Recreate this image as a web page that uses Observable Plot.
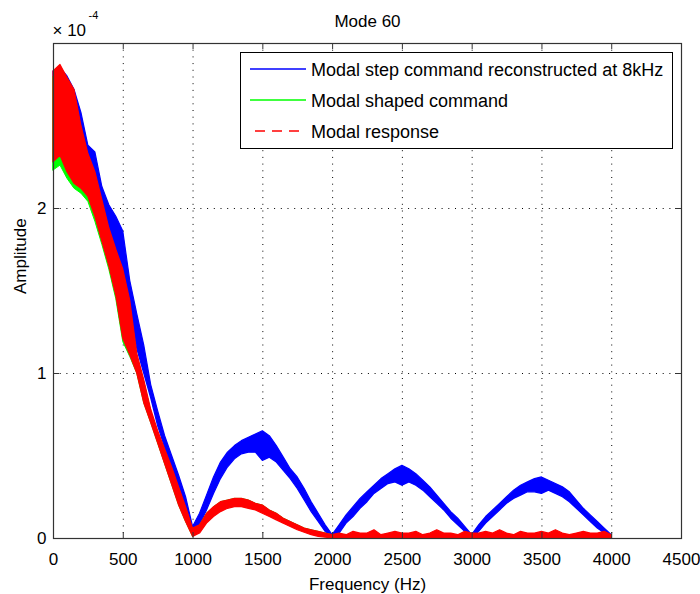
<!DOCTYPE html>
<html><head><meta charset="utf-8">
<script src="https://cdn.jsdelivr.net/npm/d3@7"></script>
<script src="https://cdn.jsdelivr.net/npm/@observablehq/plot@0.6"></script>
<style>
body{margin:0;background:#fff;font-family:"Liberation Sans",Arial,sans-serif;}
</style></head><body><div id="chart"></div>
<script>
// Frequency samples (Hz)
const freq = [0,50,100,150,200,250,300,350,400,450,500,550,600,650,700,750,800,850,900,950,
  1000,1050,1100,1150,1200,1250,1300,1350,1400,1450,1500,1550,1600,1650,1700,1750,1800,1850,1900,1950,
  2000,2050,2100,2150,2200,2250,2300,2350,2400,2450,2500,2550,2600,2650,2700,2750,2800,2850,2900,2950,
  3000,3050,3100,3150,3200,3250,3300,3350,3400,3450,3500,3550,3600,3650,3700,3750,3800,3850,3900,3950,4000];

// Amplitudes in units of 1e-4 (lower / upper envelope of the noisy trace)
const blueLo = [2.28,2.30,2.25,2.20,2.18,2.15,2.05,1.95,1.85,1.75,1.62,1.40,1.15,1.00,0.85,0.68,0.55,0.43,0.31,0.18,
  0.02,0.08,0.17,0.27,0.36,0.43,0.48,0.51,0.52,0.52,0.47,0.49,0.46,0.41,0.36,0.30,0.23,0.16,0.10,0.04,
  0.00,0.03,0.09,0.13,0.18,0.22,0.27,0.30,0.33,0.34,0.32,0.34,0.32,0.29,0.25,0.21,0.17,0.12,0.08,0.04,
  0.00,0.04,0.09,0.13,0.17,0.21,0.24,0.26,0.28,0.28,0.27,0.29,0.27,0.25,0.22,0.18,0.14,0.10,0.06,0.03,0.00];
const blueHi = [2.83,2.85,2.80,2.72,2.58,2.38,2.34,2.13,2.02,1.95,1.86,1.56,1.36,1.17,0.93,0.77,0.62,0.50,0.38,0.25,
  0.07,0.15,0.26,0.37,0.46,0.52,0.56,0.59,0.61,0.63,0.65,0.62,0.56,0.49,0.42,0.37,0.30,0.22,0.15,0.08,
  0.02,0.08,0.14,0.19,0.24,0.28,0.32,0.36,0.39,0.42,0.44,0.42,0.39,0.35,0.31,0.26,0.21,0.16,0.12,0.07,
  0.02,0.08,0.13,0.17,0.21,0.25,0.29,0.32,0.34,0.36,0.37,0.35,0.33,0.31,0.28,0.23,0.18,0.14,0.10,0.06,0.02];
const greenLo = [2.23,2.26,2.18,2.12,2.09,2.04,1.92,1.78,1.63,1.45,1.19,1.10,1.00,0.82,0.70,0.575,0.45,0.325,0.20,0.10,
  0.01,0.04,0.10,0.14,0.17,0.19,0.20,0.20,0.19,0.18,0.16,0.14,0.12,0.10,0.08,0.06,0.04,0.025,0.015,0.01,
  0,0,0,0,0,0,0,0,0,0,0,0,0,0,0,0,0,0,0,0,
  0,0,0,0,0,0,0,0,0,0,0,0,0,0,0,0,0,0,0,0,0];
const greenHi = [2.80,2.84,2.76,2.69,2.47,2.30,2.19,2.02,1.85,1.72,1.60,1.41,1.10,0.95,0.77,0.64,0.53,0.42,0.30,0.18,
  0.05,0.08,0.15,0.19,0.22,0.23,0.24,0.24,0.23,0.21,0.20,0.17,0.15,0.12,0.10,0.08,0.06,0.05,0.04,0.03,
  0.02,0.02,0.02,0.02,0.02,0.02,0.02,0.02,0.02,0.02,0.02,0.02,0.02,0.02,0.02,0.02,0.02,0.02,0.02,0.02,
  0.02,0.02,0.02,0.02,0.02,0.02,0.02,0.02,0.02,0.02,0.02,0.02,0.02,0.02,0.02,0.02,0.02,0.02,0.02,0.02,0.02];
const redLo = [2.28,2.32,2.22,2.15,2.12,2.07,1.95,1.80,1.65,1.47,1.21,1.11,1.00,0.82,0.70,0.575,0.45,0.325,0.20,0.10,
  0.01,0.03,0.09,0.13,0.16,0.18,0.19,0.19,0.18,0.17,0.15,0.13,0.11,0.09,0.07,0.05,0.035,0.02,0.01,0.005,
  0,0,0,0,0,0,0,0,0,0,0,0,0,0,0,0,0,0,0,0,
  0,0,0,0,0,0,0,0,0,0,0,0,0,0,0,0,0,0,0,0,0];
const redHi = [2.83,2.87,2.79,2.72,2.50,2.33,2.22,2.05,1.88,1.75,1.63,1.44,1.12,0.96,0.78,0.65,0.54,0.43,0.31,0.19,
  0.06,0.08,0.15,0.19,0.22,0.23,0.24,0.24,0.23,0.21,0.20,0.17,0.15,0.12,0.10,0.08,0.06,0.05,0.04,0.03,
  0.02,0.03,0.02,0.04,0.03,0.03,0.05,0.02,0.03,0.04,0.03,0.03,0.04,0.02,0.03,0.05,0.03,0.03,0.02,0.04,
  0.03,0.03,0.04,0.03,0.05,0.03,0.02,0.04,0.03,0.03,0.04,0.03,0.05,0.03,0.02,0.03,0.04,0.03,0.03,0.04,0.02];

const xTicks = [0,500,1000,1500,2000,2500,3000,3500,4000,4500];
const xGrid = [500,1000,1500,2000,2500,3000,3500,4000];
const yTicks = [0,1,2];
const yGrid = [1,2];
const seriesNames = ["Modal step command reconstructed at 8kHz","Modal shaped command","Modal response"];
const seriesColors = ["#0000ff","#00ff00","#ff0000"];

const W = 700, H = 594, mL = 53, mR = 19, mT = 43, mB = 56;
const fw = W - mL - mR, fh = H - mT - mB;
const rows = (lo, hi) => freq.map((f, i) => ({f, lo: lo[i], hi: hi[i]}));
const font = "'Liberation Sans', Arial, sans-serif";

const plot = Plot.plot({
  width: W, height: H,
  marginLeft: mL, marginRight: mR, marginTop: mT, marginBottom: mB,
  style: {fontFamily: font, fontSize: "17px", background: "#fff", color: "#000", overflow: "visible"},
  x: {domain: [0, 4500], ticks: xTicks, tickSize: 0, tickPadding: 14, label: null, tickFormat: d => String(d)},
  y: {domain: [0, 3], ticks: yTicks, tickSize: 0, tickPadding: 7, label: null, tickFormat: d => String(d)},
  marks: [
    Plot.ruleX(xGrid, {stroke: "#000", strokeDasharray: "1,5.7", strokeWidth: 1}),
    Plot.ruleY(yGrid, {stroke: "#000", strokeDasharray: "1,5.7", strokeWidth: 1}),
    Plot.areaY(rows(blueLo, blueHi), {x: "f", y1: "lo", y2: "hi", fill: seriesColors[0], stroke: seriesColors[0], strokeWidth: 1.2}),
    Plot.areaY(rows(greenLo, greenHi), {x: "f", y1: "lo", y2: "hi", fill: seriesColors[1], stroke: seriesColors[1], strokeWidth: 1}),
    Plot.areaY(rows(redLo, redHi), {x: "f", y1: "lo", y2: "hi", fill: seriesColors[2], stroke: seriesColors[2], strokeWidth: 1.2}),
    Plot.ruleX(xTicks, {insetTop: fh - 6, stroke: "#333"}),
    Plot.ruleX(xTicks, {insetBottom: fh - 6, stroke: "#333"}),
    Plot.ruleY(yTicks, {insetRight: fw - 6, stroke: "#333"}),
    Plot.ruleY(yTicks, {insetLeft: fw - 6, stroke: "#333"}),
    Plot.frame({stroke: "#333", strokeWidth: 1.2}),
    Plot.text(["Mode 60"], {frameAnchor: "top", lineAnchor: "bottom", dy: -17, fontSize: 17}),
    Plot.text(["Frequency (Hz)"], {frameAnchor: "bottom", lineAnchor: "bottom", dy: 51, fontSize: 17}),
    Plot.text(["Amplitude"], {frameAnchor: "left", lineAnchor: "bottom", rotate: -90, dx: -28, dy: 3, fontSize: 17}),
    Plot.text(["\u00d7 10"], {frameAnchor: "top-left", textAnchor: "start", lineAnchor: "bottom", dy: -8, dx: -1, fontSize: 17}),
    Plot.text(["-4"], {frameAnchor: "top-left", textAnchor: "start", lineAnchor: "bottom", dy: -25, dx: 35, fontSize: 11})
  ]
});
document.getElementById("chart").appendChild(plot);

// Legend box
const svg = d3.select(plot);
const lg = svg.append("g").attr("font-family", font).attr("font-size", 18).attr("text-anchor", "start");
lg.append("rect").attr("x", 240.5).attr("y", 52.5).attr("width", 432).attr("height", 96)
  .attr("fill", "#fff").attr("stroke", "#000").attr("stroke-width", 1);
const rowY = [69, 100, 131];
seriesNames.forEach((name, i) => {
  const line = lg.append("line").attr("x1", i === 2 ? 255 : 250).attr("x2", 306)
    .attr("y1", rowY[i]).attr("y2", rowY[i]).attr("stroke", seriesColors[i]).attr("stroke-width", 1.5);
  if (i === 2) line.attr("stroke-dasharray", "10,7");
  lg.append("text").attr("x", 311).attr("y", rowY[i] + 6.5).attr("text-anchor", "start").attr("fill", "#000").text(name);
});
</script>
</body></html>
